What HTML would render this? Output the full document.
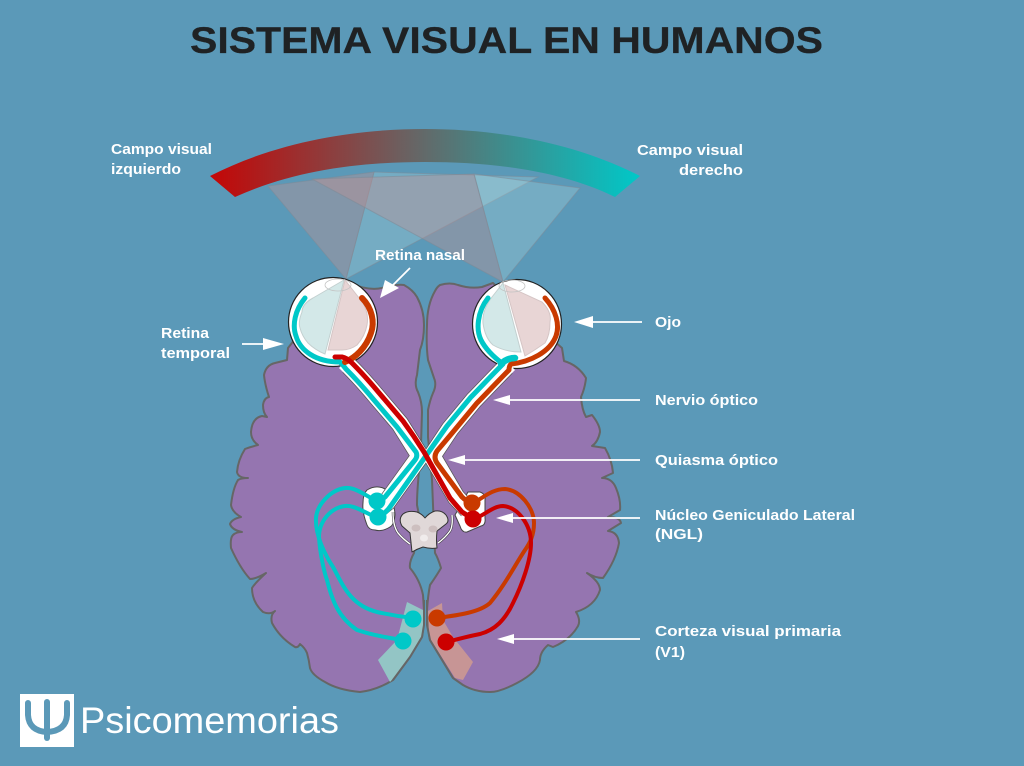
<!DOCTYPE html>
<html>
<head>
<meta charset="utf-8">
<style>
html,body{margin:0;padding:0;background:#5b99b8;}
svg{display:block;}
text{font-family:"Liberation Sans",sans-serif;}
.l{font-weight:bold;font-size:14.5px;fill:#fff;}
</style>
</head>
<body>
<svg width="1024" height="766" viewBox="0 0 1024 766" xmlns="http://www.w3.org/2000/svg">
<defs>
<linearGradient id="g" x1="210" y1="0" x2="640" y2="0" gradientUnits="userSpaceOnUse">
<stop offset="0" stop-color="#c40606"/>
<stop offset=".5" stop-color="#626a6a"/>
<stop offset="1" stop-color="#00c8c8"/>
</linearGradient>
</defs>
<rect width="1024" height="766" fill="#5b99b8"/>
<text x="190" y="53" font-size="37" font-weight="bold" fill="#1f2224" stroke="#1f2224" stroke-width=".3" textLength="633" lengthAdjust="spacingAndGlyphs">SISTEMA VISUAL EN HUMANOS</text>

<path d="M210,176 C280,140 360,129 425,129 C490,129 570,140 640,176 L615,197 C560,170 490,162 425,162 C360,162 295,170 235,197 Z" fill="url(#g)"/>

<!-- hemispheres -->
<g fill="#9575b0" stroke="#666" stroke-width="2" stroke-linejoin="round">
<path d="M350,283 Q368,291 382,288 Q396,284 404,285 Q413,290 417,297 Q424,310 424,325 Q424,340 420,350 L417,375 Q414,385 418,392 Q422,402 422,412 L421,445 L418,483 Q417,495 417,505 L419,515 L414,553 Q409,562 410,568 Q420,580 423,595 L424,610 Q424,625 422,637 L410,657 L393,680 Q377,690 360,692 Q338,690 325,682 Q312,675 310,668 Q309,660 307,653 Q305,648 300,644 Q298,648 295,647 Q280,638 272,623 Q270,615 275,611 Q270,615 263,612 Q252,602 252,588 Q255,583 266,573 Q256,579 250,579 Q240,568 231,548 Q230,538 233,535 Q236,532 242,532 Q232,530 230,524 Q232,519 241,517 Q232,512 231,505 Q233,488 238,480 Q241,478 248,478 Q238,478 237,472 Q238,460 245,449 Q250,447 258,445 Q251,440 251,432 Q252,418 262,416 L267,417 Q263,413 263,405 Q264,398 269,397 Q265,385 264,375 Q266,365 275,363 L287,360 L288,348 L310,320 Z"/>
<path d="M427,325 Q427,305 435,291 Q437,287 440,285 Q450,282 458,285 Q470,289 482,287 L493,283 L530,320 L562,348 L564,361 Q578,365 586,378 Q585,388 581,397 Q582,410 586,417 L592,415 Q600,425 600,432 Q598,442 592,446 L605,448 Q612,460 613,473 L602,478 Q612,478 616,488 Q621,500 620,510 L608,517 Q620,517 621,523 L608,531 Q618,532 619,543 Q616,560 603,578 Q595,578 587,573 Q600,582 600,590 Q595,606 576,612 Q581,620 578,626 Q570,640 553,647 L548,645 Q540,652 540,660 Q538,672 517,683 Q500,692 490,692 Q475,692 463,685 L453,678 L430,640 Q427,625 427,610 Q428,595 430,585 Q437,575 441,568 Q438,558 435,553 L433,505 L432,480 L428,437 L428,410 Q430,400 433,393 Q437,385 434,378 L428,360 Q426,345 427,325 Z"/>
</g>

<!-- V1 -->
<path d="M407,602 L423,610 L423,637 L403,667 L390,682 L378,660 L397,640 Z" fill="#93c5c5"/>
<path d="M442,603 L428,611 L429,637 L455,678 L463,680 L473,662 L453,637 L443,620 Z" fill="#c79595"/>
<path d="M424,600 L424,625 L422,637 L410,657 L393,680" fill="none" stroke="#666" stroke-width="2"/>
<path d="M427,600 L427,625 L430,640 L453,678" fill="none" stroke="#666" stroke-width="2"/>

<!-- cones -->
<g stroke="#7d8a98" stroke-opacity=".55" stroke-width="1">
<polygon points="346,279 374,172 538,177" fill="#d2f0eb" fill-opacity=".22"/>
<polygon points="503,282 474,174 580,188" fill="#d2f0eb" fill-opacity=".22"/>
<polygon points="346,279 268,186 374,172" fill="#c19193" fill-opacity=".4"/>
<polygon points="503,282 312,179 474,174" fill="#c19193" fill-opacity=".4"/>
</g>

<!-- LGN blobs -->
<path d="M367,490 Q375,485 383,488 Q392,492 392,500 Q395,510 395,515 Q394,525 390,527 Q382,532 375,530 Q369,530 367,525 Q362,512 363,503 Q363,494 367,490 Z" fill="#fff" stroke="#444" stroke-width="1"/>
<path d="M468,492 L480,492 Q486,494 485,500 L485,518 Q486,525 481,526 L467,532 Q462,533 460,526 L455,515 Z" fill="#fff" stroke="#444" stroke-width="1"/>

<!-- midbrain side lines -->
<path d="M393,512 Q393,526 398,533 Q403,539 410,544" fill="none" stroke="#333" stroke-width="2.4"/>
<path d="M452,515 Q453,526 450,531 Q445,538 438,543" fill="none" stroke="#333" stroke-width="2.4"/>
<path d="M393,512 Q393,526 398,533 Q403,539 410,544" fill="none" stroke="#fff" stroke-width="1.4"/>
<path d="M452,515 Q453,526 450,531 Q445,538 438,543" fill="none" stroke="#fff" stroke-width="1.4"/>
<!-- midbrain -->
<path d="M403,514 Q408,510 417,512 Q422,514 425,518 Q429,513 435,511 Q442,510 446,515 Q450,521 446,524 L437,531 Q436,540 437,548 Q430,549 423,547 Q417,549 412,552 Q411,542 410,533 L402,526 Q398,519 403,514 Z" fill="#e0d8d8" stroke="#333" stroke-width="1" stroke-linejoin="round"/>
<ellipse cx="416" cy="528" rx="4.5" ry="3.5" fill="#cdbfbf"/>
<ellipse cx="433" cy="529" rx="4.5" ry="3.5" fill="#cdbfbf"/>
<ellipse cx="424" cy="538" rx="4" ry="3.5" fill="#f0ecec"/>

<!-- nerve outline -->
<g fill="none" stroke="#555" stroke-width="18.5" stroke-linejoin="miter">
<path d="M349,366 C360,377 372,391 377,397 L400,424 L420,456 L387,502 L377,510"/>
<path d="M506,367 C495,378 480,394 474,400 L450,429 L432,456 L456,497 L468,510"/>
</g>

<!-- eyes -->
<circle cx="333" cy="322" r="44.5" fill="#fff" stroke="#222" stroke-width="1.2"/>
<circle cx="517" cy="324" r="44.5" fill="#fff" stroke="#222" stroke-width="1.2"/>
<path d="M344,280 L313,298 Q302,304 302,312 Q298,322 300,328 Q302,336 308,343 Q315,350 325,354 Z" fill="#d3e8e8" stroke="#c3d0d0"/>
<path d="M345,280 L363,303 Q369,314 367,325 Q365,336 357,345 Q350,350 342,350 L328,350 Z" fill="#e8d5d5" stroke="#d5c5c5"/>
<path d="M503,283 L492,297 Q482,310 483,323 Q485,338 493,345 Q505,352 521,352 Z" fill="#d3e8e8" stroke="#c3d0d0"/>
<path d="M505,285 L542,302 Q552,312 550,322 Q550,335 545,343 Q535,350 525,356 Z" fill="#e8d5d5" stroke="#d5c5c5"/>
<ellipse cx="338" cy="285" rx="13" ry="6" fill="none" stroke="#c4c4c4" stroke-width=".8"/>
<ellipse cx="512" cy="286" rx="13" ry="6" fill="none" stroke="#c4c4c4" stroke-width=".8"/>

<!-- nerve white -->
<g fill="none" stroke="#fff" stroke-width="17" stroke-linejoin="miter">
<path d="M345,362 L349,366 C360,377 372,391 377,397 L400,424 L420,456 L387,502 L377,510"/>
<path d="M509,364 L506,367 C495,378 480,394 474,400 L450,429 L432,456 L456,497 L468,510"/>
</g>

<!-- retina arcs and nerves -->
<g fill="none" stroke-linecap="round" stroke-linejoin="round">
<path d="M305,298 C295,310 292,325 296,336 C300,350 315,362 340,362 Q343,365 346,369 C357,380 369,394 374,400 L397,427 L416,452 Q418,456 415,460 L385,497 Q382,500 377,501" stroke="#00c8c8" stroke-width="5"/>
<path d="M545,298 C556,310 560,325 556,336 C550,352 530,362 511,364 Q509,366 509,370 C498,381 483,397 477,403 L453,432 L437,451 Q433,457 437,463 L462,497 Q466,501 472,503" stroke="#c93a00" stroke-width="5"/>
<path d="M488,298 C477,312 476,330 481,340 C486,350 495,358 503,364 C492,375 477,391 471,397 L447,426 L423,460 L390,507 Q385,514 378,517" stroke="#00c8c8" stroke-width="5"/>
<path d="M501,364 Q507,358 515,358" stroke="#00c8c8" stroke-width="6.5"/>
<path d="M362,298 C372,308 375,322 371,333 C366,348 355,358 345,362" stroke="#c93a00" stroke-width="6"/>
<path d="M335,357 L342,357 Q347,358 352,363 C363,374 375,388 380,394 L403,421 Q414,436 424,452 L450,498 L462,512 L473,519" stroke="#cc0000" stroke-width="5"/>
</g>

<!-- radiations -->
<g fill="none" stroke-width="4" stroke-linecap="round">
<path d="M378,502 C365,495 355,487 345,488 C330,490 317,505 316,518 C315,535 325,555 333,567 C343,585 350,605 377,612 Q395,616 413,618" stroke="#00c8c8"/>
<path d="M378,518 C365,513 355,505 345,506 C330,508 319,522 319,537 C320,555 325,575 327,580 C332,600 338,617 357,630 Q375,636 403,640" stroke="#00c8c8"/>
<path d="M473,503 C483,498 492,489 505,489 C520,490 534,508 534,523 C534,535 530,543 525,550 C515,565 505,585 490,603 C480,612 460,615 437,618" stroke="#c93a00"/>
<path d="M473,519 C483,517 492,506 503,506 C518,507 531,525 531,543 C531,560 522,585 513,603 C505,620 495,630 480,634 Q465,637 447,642" stroke="#cc0000"/>
</g>

<!-- dots -->
<circle cx="377" cy="501" r="8.5" fill="#00c8c8"/>
<circle cx="378" cy="517" r="8.5" fill="#00c8c8"/>
<circle cx="472" cy="503" r="8.5" fill="#c93a00"/>
<circle cx="473" cy="519" r="8.5" fill="#cc0000"/>
<circle cx="413" cy="619" r="8.5" fill="#00c8c8"/>
<circle cx="403" cy="641" r="8.5" fill="#00c8c8"/>
<circle cx="437" cy="618" r="8.5" fill="#c93a00"/>
<circle cx="446" cy="642" r="8.5" fill="#cc0000"/>

<!-- arrows -->
<g stroke="#fff" stroke-width="1.8">
<line x1="410" y1="268" x2="390" y2="288"/>
<line x1="242" y1="344" x2="265" y2="344"/>
<line x1="642" y1="322" x2="590" y2="322"/>
<line x1="640" y1="400" x2="508" y2="400"/>
<line x1="640" y1="460" x2="463" y2="460"/>
<line x1="640" y1="518" x2="511" y2="518"/>
<line x1="640" y1="639" x2="512" y2="639"/>
</g>
<g fill="#fff">
<polygon points="380,298 385,280 399,288"/>
<polygon points="284,344 263,338 263,350"/>
<polygon points="574,322 593,316 593,328"/>
<polygon points="493,400 510,395 510,405"/>
<polygon points="448,460 465,455 465,465"/>
<polygon points="496,518 513,513 513,523"/>
<polygon points="497,639 514,634 514,644"/>
</g>

<!-- labels -->
<text class="l" x="111" y="154" textLength="101" lengthAdjust="spacingAndGlyphs">Campo visual</text>
<text class="l" x="111" y="174" textLength="70" lengthAdjust="spacingAndGlyphs">izquierdo</text>
<text class="l" x="637" y="155" textLength="106" lengthAdjust="spacingAndGlyphs">Campo visual</text>
<text class="l" x="679" y="175" textLength="64" lengthAdjust="spacingAndGlyphs">derecho</text>
<text class="l" x="375" y="260" textLength="90" lengthAdjust="spacingAndGlyphs">Retina nasal</text>
<text class="l" x="161" y="338" textLength="48" lengthAdjust="spacingAndGlyphs">Retina</text>
<text class="l" x="161" y="358" textLength="69" lengthAdjust="spacingAndGlyphs">temporal</text>
<text class="l" x="655" y="327" textLength="26" lengthAdjust="spacingAndGlyphs">Ojo</text>
<text class="l" x="655" y="405" textLength="103" lengthAdjust="spacingAndGlyphs">Nervio óptico</text>
<text class="l" x="655" y="465" textLength="123" lengthAdjust="spacingAndGlyphs">Quiasma óptico</text>
<text class="l" x="655" y="520" textLength="200" lengthAdjust="spacingAndGlyphs">Núcleo Geniculado Lateral</text>
<text class="l" x="655" y="539" textLength="48" lengthAdjust="spacingAndGlyphs">(NGL)</text>
<text class="l" x="655" y="636" textLength="186" lengthAdjust="spacingAndGlyphs">Corteza visual primaria</text>
<text class="l" x="655" y="657" textLength="30" lengthAdjust="spacingAndGlyphs">(V1)</text>

<!-- logo -->
<rect x="20" y="694" width="54" height="53" fill="#fff"/>
<g fill="none" stroke="#5b99b8" stroke-width="6" stroke-linecap="round">
<path d="M28,703 L28,715 Q29,731 47,732 Q66,731 67,715 L67,703"/>
<path d="M47,702 L47,738"/>
</g>
<text x="80" y="733" font-size="37" fill="#fff" textLength="259" lengthAdjust="spacingAndGlyphs">Psicomemorias</text>
</svg>
</body>
</html>
